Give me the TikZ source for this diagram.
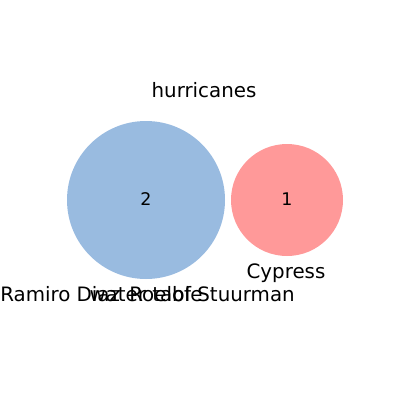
\documentclass[tikz,border=0pt]{standalone}
\usepackage{fontspec}
\setmainfont{DejaVu Sans}
\definecolor{setblue}{HTML}{99BBE0}
\definecolor{setred}{HTML}{FF9999}
\begin{document}
\begin{tikzpicture}[x=0.25mm,y=-0.25mm,
	setlabel/.style={font=\fontsize{14.1pt}{16pt}\selectfont, inner sep=0pt},
	countlabel/.style={font=\fontsize{12.4pt}{14pt}\selectfont, inner sep=0pt}]
		\useasboundingbox (0,0) rectangle (400,400);
		
		% Mengen
		\fill[setblue] (146,200) circle (79);
		\fill[setred] (287,200) circle (56);
		
		\node[countlabel] (nblue) at (146,199) {2};
		\node[countlabel] (nred) at (287,199) {1};
		
		% Beschriftungen
		\node[setlabel] (hurricanes) at (204,90) {hurricanes};
		\node[setlabel] (cypress) at (286,273) {Cypress};
		\node[setlabel, anchor=west] (ramiro) at (0,294) {Ramiro Diaz};
		\node[setlabel] (water) at (146,294) {water table};
		\node[setlabel, anchor=east] (roelof) at (295,294) {Roelof Stuurman};
		
	\end{tikzpicture}
\end{document}
